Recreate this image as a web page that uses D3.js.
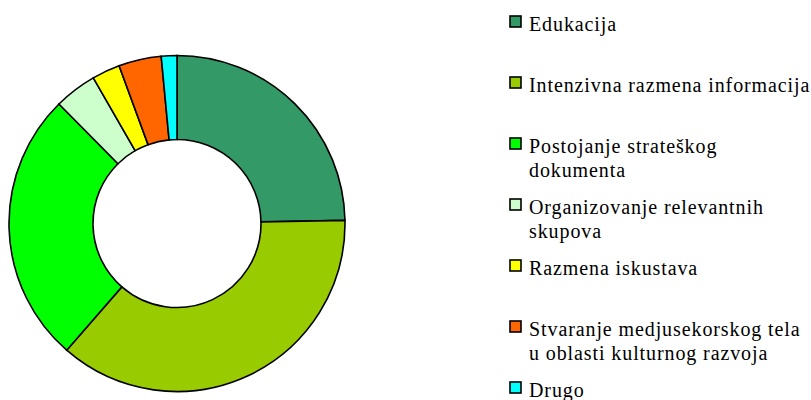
<!DOCTYPE html>
<html lang="en">
<head>
    <meta charset="UTF-8">
    <title>Donut</title>
    <script src="https://cdn.jsdelivr.net/npm/d3@7/dist/d3.min.js"></script>
    <style>
        body{ margin:0; background:#fff; }
        .slice{ stroke:#000; stroke-width:1.6px; }
        .legend rect{ stroke:#000; stroke-width:1.6px; }
    </style>
</head>
<body>
<svg id="main" width="811" height="400"></svg>
<script>
    // shares (percent)
    let categories = ['Edukacija', 'Intenzivna razmena informacija', 'Postojanje strateškog dokumenta',
        'Organizovanje relevantnih skupova', 'Razmena iskustava',
        'Stvaranje medjusekorskog tela u oblasti kulturnog razvoja', 'Drugo'];
    let values = [24.7, 36.7, 26.2, 4.1, 2.7, 4.1, 1.5];
    let colors = ['#339966', '#99cc00', '#00ff00', '#ccffcc', '#ffff00', '#ff6600', '#00ffff'];
    // legend text, wrapped as in the original
    let legendLines = [['Edukacija'], ['Intenzivna razmena informacija'], ['Postojanje strateškog', 'dokumenta'],
        ['Organizovanje relevantnih', 'skupova'], ['Razmena iskustava'],
        ['Stvaranje medjusekorskog tela', 'u oblasti kulturnog razvoja'], ['Drugo']];

    let svg = d3.select('svg#main');
    let cx = 177, cy = 223.5, rOut = 168, rIn = 84;

    let pie = d3.pie().sort(null).value(function(d){return d.v});
    let arc = d3.arc().innerRadius(rIn).outerRadius(rOut);
    let data = d3.map(values, function(v, i){return {v: v, c: colors[i]}});

    let fig = svg.append('g').attr('transform', 'translate(' + cx + ',' + cy + ')');
    fig.selectAll('path').data(pie(data)).join('path')
        .attr('class', 'slice')
        .attr('d', arc)
        .attr('fill', function(d){return d.data.c});

    // legend
    let yScale = d3.scaleLinear().domain([0, 6]).range([16, 382]);
    let leg = svg.append('g').attr('class', 'legend');
    let items = leg.selectAll('g').data(categories).join('g')
        .attr('transform', function(d, i){return 'translate(510,' + yScale(i) + ')'});
    items.append('rect')
        .attr('width', 11).attr('height', 11)
        .attr('fill', function(d, i){return colors[i]});
    items.each(function(d, i){
        let t = d3.select(this).append('text')
            .attr('x', 19).attr('y', 15)
            .attr('font-family', 'Liberation Serif')
            .attr('font-size', 20)
            .attr('letter-spacing', 0.9)
            .attr('fill', '#000');
        legendLines[i].forEach(function(line, k){
            t.append('tspan').attr('x', 19).attr('dy', k === 0 ? 0 : 24).text(line);
        });
    });
</script>
</body>
</html>
